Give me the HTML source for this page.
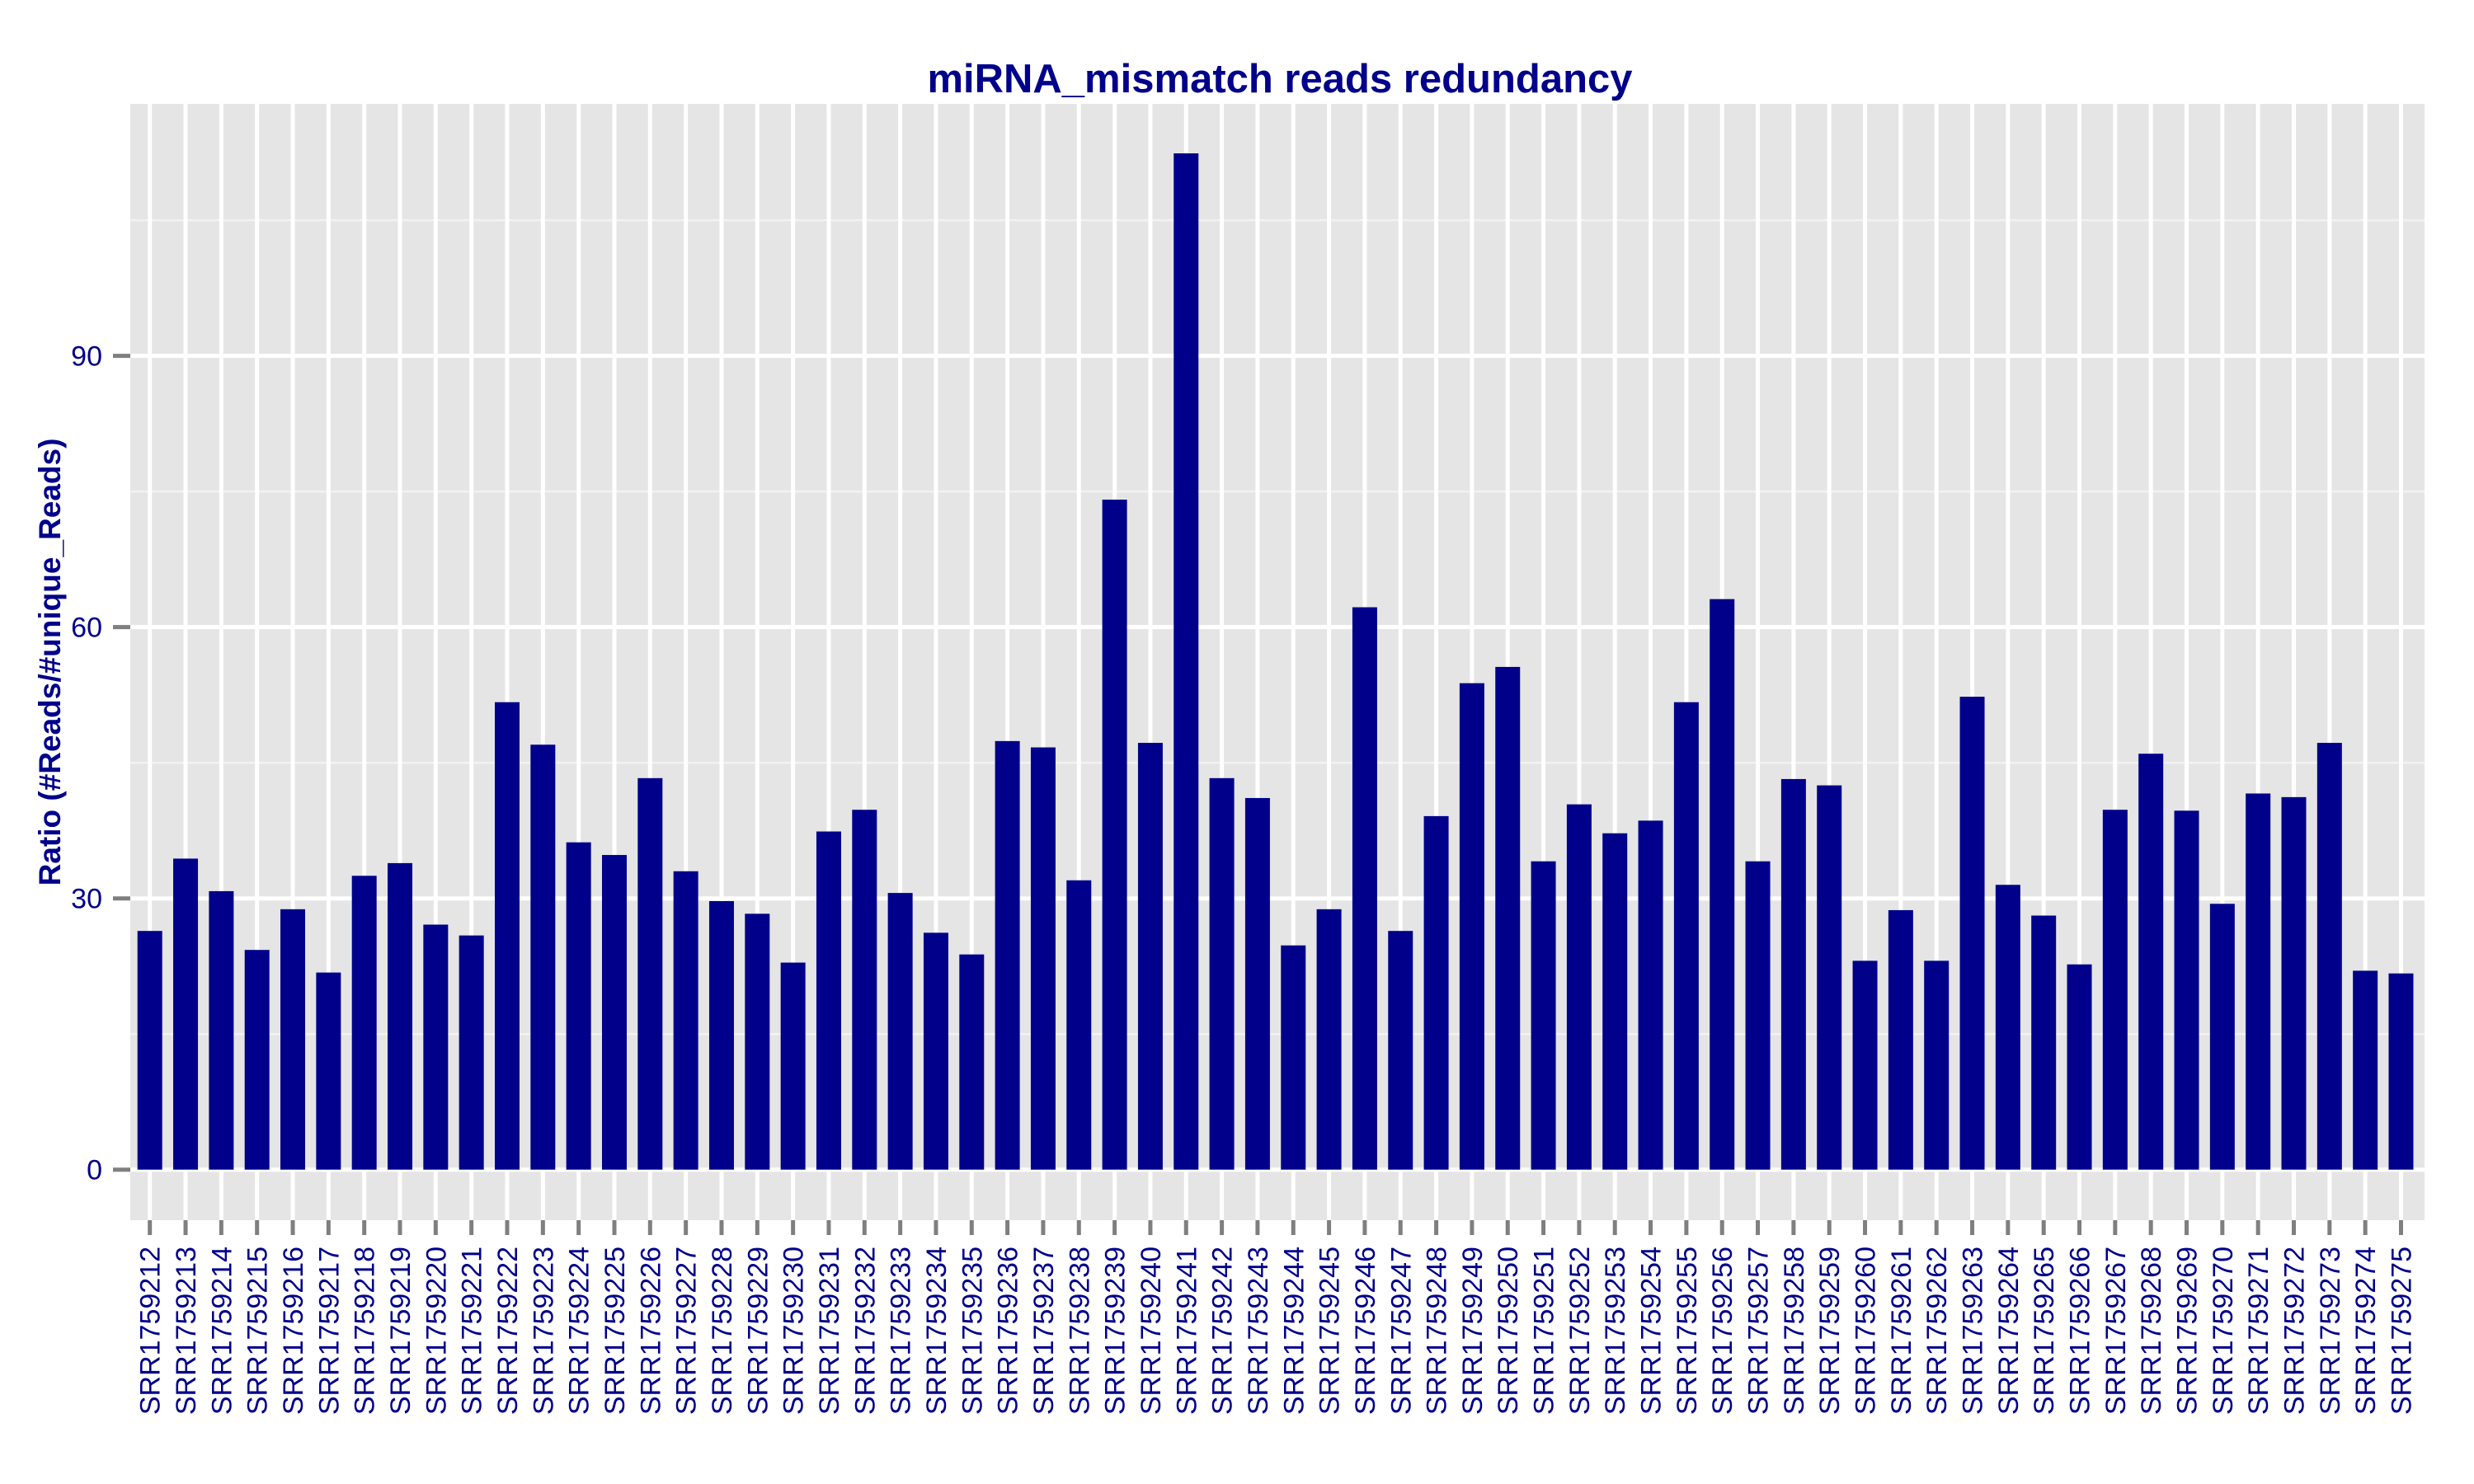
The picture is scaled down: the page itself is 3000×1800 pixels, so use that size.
<!DOCTYPE html>
<html><head><meta charset="utf-8"><style>
html,body{margin:0;padding:0;background:#fff;}
svg{display:block;}
text{font-family:"Liberation Sans",Arial,sans-serif;fill:#00008B;}
</style></head><body>
<svg id="chart" width="3000" height="1800" xmlns="http://www.w3.org/2000/svg">
<rect x="158" y="126" width="2782" height="1354" fill="#e5e5e5"/>
<g id="grid"></g>
<g id="bars"></g>
<g id="axes"></g>
<text x="1552" y="112" text-anchor="middle" font-size="49" font-weight="bold">miRNA_mismatch reads redundancy</text>
<text transform="translate(73,803) rotate(-90)" text-anchor="middle" font-size="37" font-weight="bold">Ratio (#Reads/#unique_Reads)</text>
</svg>
<script>
const categories = [];
for (let n = 1759212; n <= 1759275; n++) categories.push('SRR' + n);
const values = [26.4,34.4,30.8,24.3,28.8,21.8,32.5,33.9,27.1,25.9,51.7,47.0,36.2,34.8,43.3,33.0,29.7,28.3,22.9,37.4,39.8,30.6,26.2,23.8,47.4,46.7,32.0,74.1,47.2,112.4,43.3,41.1,24.8,28.8,62.2,26.4,39.1,53.8,55.6,34.1,40.4,37.2,38.6,51.7,63.1,34.1,43.2,42.5,23.1,28.7,23.1,52.3,31.5,28.1,22.7,39.8,46.0,39.7,29.4,41.6,41.2,47.2,22.0,21.7];
const yTicks = [0,30,60,90];
const yMinor = [15,45,75,105];

const NS = 'http://www.w3.org/2000/svg';
const x0 = 181.7, step = 43.33, barW = 30;
const yZero = 1418.7, pxPerUnit = 10.967;
function xPos(i){ return x0 + i*step; }
function yPos(v){ return yZero - v*pxPerUnit; }
function mk(tag, attrs, parent){
  const e = document.createElementNS(NS, tag);
  for (const k in attrs) e.setAttribute(k, attrs[k]);
  parent.appendChild(e);
  return e;
}
const grid = document.getElementById('grid');
const bars = document.getElementById('bars');
const axes = document.getElementById('axes');

yMinor.forEach(v => {
  const l = mk('line', {x1:158, x2:2940, y1:yPos(v), y2:yPos(v), stroke:'#f2f2f2', 'stroke-width':2.5}, grid);
  
  
});
yTicks.forEach(v => {
  const l = mk('line', {x1:158, x2:2940, y1:yPos(v), y2:yPos(v), stroke:'#fff', 'stroke-width':5}, grid);
  
  
  const t = mk('line', {x1:137, x2:158, y1:yPos(v), y2:yPos(v), stroke:'#7f7f7f', 'stroke-width':5}, axes);
  
  
  const lab = mk('text', {x:124, y:yPos(v)+12, 'text-anchor':'end', 'font-size':34}, axes);
  lab.textContent = String(v);
  
  
});
categories.forEach((c, i) => {
  const x = xPos(i);
  const g = mk('line', {x1:x, x2:x, y1:126, y2:1480, stroke:'#fff', 'stroke-width':5}, grid);
  
  
  const b = mk('rect', {x:x-barW/2, y:yPos(values[i]), width:barW, height:yZero-yPos(values[i]), fill:'#00008B'}, bars);
  
  
  const t = mk('line', {x1:x, x2:x, y1:1480, y2:1498, stroke:'#7f7f7f', 'stroke-width':5}, axes);
  
  
  const lab = mk('text', {transform:'translate(' + (x+12) + ',1512) rotate(-90)', 'text-anchor':'end', 'font-size':34}, axes);
  lab.textContent = c;
  
  
});
</script>
</body></html>
